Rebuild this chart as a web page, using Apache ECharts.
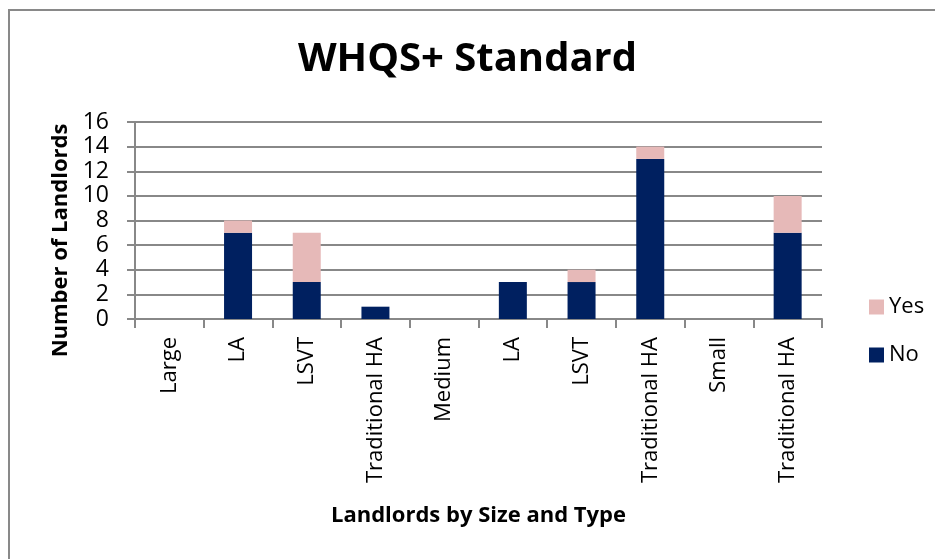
<!DOCTYPE html>
<html>
<head>
<meta charset="utf-8">
<script src="https://cdn.jsdelivr.net/npm/echarts@6/dist/echarts.min.js"></script>
<style>
  html, body { margin: 0; padding: 0; background: #fff; }
  #chart { width: 935px; height: 559px; }
</style>
</head>
<body>
<div id="chart"></div>
<script>
// categories along the x axis (size group headers + landlord types)
const categories = ['Large', 'LA', 'LSVT', 'Traditional HA', 'Medium', 'LA', 'LSVT', 'Traditional HA', 'Small', 'Traditional HA']
const noValues = [0, 7, 3, 1, 0, 3, 3, 13, 0, 7]
const yesValues = [0, 1, 4, 0, 0, 0, 1, 1, 0, 3]
const yTicks = [0, 2, 4, 6, 8, 10, 12, 14, 16]

const font = '"Open Sans", sans-serif'
const gridColor = '#888888'

let chart = echarts.init(document.getElementById('chart'))
let option = {
  animation: false,
  backgroundColor: '#fff',
  graphic: [
    {
      type: 'rect',
      shape: { x: 9, y: 10, width: 1000, height: 1000 },
      style: { fill: 'none', stroke: '#898989', lineWidth: 2 },
      silent: true,
    },
  ],
  title: {
    text: 'WHQS+ Standard',
    left: 'center',
    top: 35,
    textStyle: { fontFamily: font, fontSize: 40, fontWeight: 'bold', color: '#000' },
  },
  legend: {
    data: ['Yes', 'No'],
    orient: 'vertical',
    left: 864,
    top: 291,
    itemWidth: 15,
    itemHeight: 15,
    itemGap: 26,
    textStyle: { fontFamily: font, fontSize: 22, color: '#000' },
    icon: 'rect',
  },
  grid: { left: 135, right: 113, top: 122, bottom: 240 },
  xAxis: {
    type: 'category',
    data: categories,
    name: 'Landlords by Size and Type',
    nameLocation: 'middle',
    nameGap: 186,
    nameTextStyle: { fontFamily: font, fontSize: 22, fontWeight: 'bold', color: '#000' },
    axisLine: { lineStyle: { color: gridColor, width: 2 } },
    axisTick: { show: true, length: 9, lineStyle: { color: gridColor, width: 2 } },
    axisLabel: {
      rotate: 90,
      margin: 18,
      interval: 0,
      fontFamily: font,
      fontSize: 22,
      color: '#000',
    },
  },
  yAxis: {
    type: 'value',
    min: yTicks[0],
    max: yTicks[yTicks.length - 1],
    interval: 2,
    name: 'Number of Landlords',
    nameLocation: 'middle',
    nameGap: 63,
    nameTextStyle: {
      fontFamily: font,
      fontSize: 22,
      fontWeight: 'bold',
      color: '#000',
      padding: [0, 40, 0, 0], // pushes the name down to sit like the original
    },
    axisLine: { show: true, lineStyle: { color: gridColor, width: 2 } },
    axisTick: { show: true, length: 8, lineStyle: { color: gridColor, width: 2 } },
    axisLabel: { margin: 26, fontFamily: font, fontSize: 23, color: '#000' },
    splitLine: { show: true, lineStyle: { color: gridColor, width: 2 } },
  },
  series: [
    {
      name: 'No',
      type: 'bar',
      stack: 'total',
      barWidth: 28,
      itemStyle: { color: '#002060' },
      data: noValues,
    },
    {
      name: 'Yes',
      type: 'bar',
      stack: 'total',
      barWidth: 28,
      itemStyle: { color: '#E6B9B8' },
      data: yesValues,
    },
  ],
}
chart.setOption(option)
</script>
</body>
</html>
